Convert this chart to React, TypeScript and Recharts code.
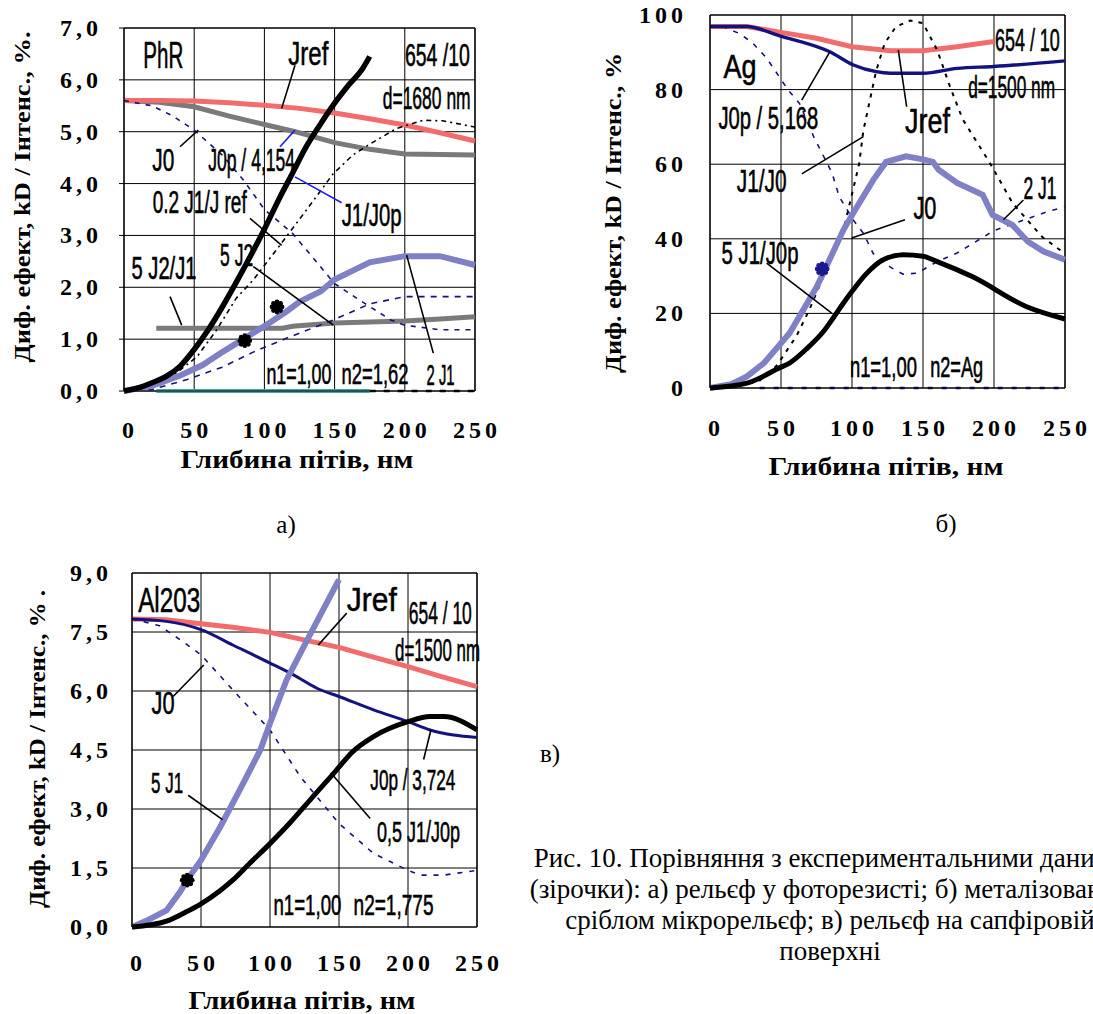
import React from 'react';
import {
  ComposedChart,
  Line,
  Scatter,
  XAxis,
  YAxis,
  CartesianGrid,
  ReferenceLine,
  ReferenceDot,
} from 'recharts';

type Pt = [number, number];

// ---------- shared axis values ----------
const depthTicks = [0, 50, 100, 150, 200, 250];

// ---------- а) photoresist relief (PhR) ----------
const phrTicks = [0, 1, 2, 3, 4, 5, 6, 7];
const phrJref: Pt[] = [[0, 5.6], [25, 5.6], [50, 5.59], [75, 5.56], [100, 5.51], [125, 5.45], [150, 5.36], [175, 5.25], [200, 5.13], [225, 4.98], [250, 4.82]];
const phrJ0: Pt[] = [[0, 5.6], [25, 5.57], [50, 5.48], [75, 5.3], [100, 5.14], [122, 5.0], [150, 4.79], [175, 4.66], [200, 4.57], [225, 4.56], [250, 4.55]];
const phrJ0p: Pt[] = [[0, 5.6], [20, 5.5], [35, 5.3], [50, 5.03], [70, 4.55], [85, 4.07], [100, 3.5], [120, 3.04], [134, 2.59], [150, 2.07], [168, 1.75], [190, 1.37], [200, 1.27], [225, 1.18], [250, 1.18]];
const phrJ1Ref: Pt[] = [[0, 0], [20, 0.1], [35, 0.3], [52, 0.66], [66, 1.18], [80, 1.79], [92, 2.14], [100, 2.42], [111, 2.81], [128, 3.42], [149, 4.19], [163, 4.55], [175, 4.76], [194, 5.06], [213, 5.22], [227, 5.21], [250, 5.09]];
const phrJ2: Pt[] = [[0, 0], [20, 0.03], [45, 0.22], [70, 0.46], [92, 0.75], [116, 1.02], [150, 1.38], [175, 1.68], [200, 1.82], [225, 1.82], [250, 1.82]];
const phrJ2J1: Pt[] = [[23, 1.21], [113, 1.21], [120, 1.25], [150, 1.31], [200, 1.35], [225, 1.39], [250, 1.43]];
const phrJ1x2: Pt[] = [[0, 0], [20, 0.1], [30, 0.2], [40, 0.3], [56, 0.5], [70, 0.75], [85, 1.0], [100, 1.25], [115, 1.52], [125, 1.72], [140, 1.92], [150, 2.15], [175, 2.48], [200, 2.6], [225, 2.6], [250, 2.43]];
const phrJ1J0p: Pt[] = [[0, 0], [10, 0.06], [20, 0.16], [30, 0.28], [40, 0.48], [50, 0.8], [60, 1.18], [70, 1.62], [80, 2.1], [90, 2.6], [100, 3.12], [110, 3.68], [120, 4.2], [130, 4.72], [140, 5.15], [150, 5.55], [160, 5.9], [170, 6.22], [175, 6.45]];
const phrBase: Pt[] = [[23, 0], [175, 0]];
const phrBaseTail: Pt[] = [[175, 0], [250, 0]];
const phrStars: Pt[] = [[86, 0.97], [109, 1.62]];

// ---------- б) silver-coated relief (Ag) ----------
const agTicks = [0, 20, 40, 60, 80, 100];
const agJref: Pt[] = [[0, 96.9], [26, 96.9], [49, 95.4], [75, 93.75], [100, 91.5], [127, 90.4], [150, 90.4], [174, 91.5], [200, 92.9]];
const agJ0p: Pt[] = [[0, 96.9], [26, 96.9], [49, 94.4], [84, 90.2], [101, 86.6], [117, 84.8], [127, 84.4], [150, 84.4], [174, 85.7], [200, 86.2], [250, 87.7]];
const agJ1J0: Pt[] = [[0, 0], [20, 0.5], [35, 2], [47, 6], [61, 14], [70, 21], [80, 30], [95, 44], [100, 52], [105, 60], [108, 69], [117, 85], [123, 92.4], [131, 96.9], [141, 98.5], [150, 97.8], [160, 90.6], [169, 80.8], [178, 72], [197, 60.4], [213, 49.6], [234, 40.5], [250, 36]];
const agJ0: Pt[] = [[0, 96.9], [10, 96.7], [21, 95], [30, 92.5], [40, 88.4], [55, 79.9], [63, 76.3], [73, 67.4], [86, 57.6], [91, 51.3], [101, 45], [108, 41.5], [115, 36], [127, 32.4], [136, 30.5], [146, 30.8], [160, 33.9], [174, 36.2], [200, 42.2], [223, 45.3], [237, 47.2], [250, 48.6]];
const agJ1x2: Pt[] = [[0, 0], [15, 1], [26, 3.1], [38, 6.7], [56, 14.7], [75, 27], [80, 31], [94, 42.4], [101, 47], [115, 55.8], [124, 60.6], [138, 62.1], [150, 61.3], [157, 60.6], [161, 58.5], [174, 55], [192, 51.8], [199, 46.4], [213, 43.7], [224, 39.2], [235, 36.6], [250, 34.4]];
const agJ1J0p: Pt[] = [[0, 0], [26, 1.3], [49, 5.4], [56, 6.7], [68, 10.5], [80, 15.2], [87, 18.9], [94, 22.8], [101, 26.4], [110, 30.6], [122, 34.4], [136, 35.7], [150, 35.3], [160, 33.9], [185, 29.8], [223, 21.8], [250, 18.5]];
const agBase: Pt[] = [[35, 0], [250, 0]];
const agStars: Pt[] = [[79, 31.9]];

// ---------- в) sapphire surface relief (Al2O3) ----------
const alTicks = [0, 1.5, 3, 4.5, 6, 7.5, 9];
const alJref: Pt[] = [[0, 7.83], [25, 7.81], [50, 7.71], [73, 7.62], [100, 7.49], [127, 7.28], [150, 7.11], [175, 6.86], [200, 6.62], [223, 6.38], [250, 6.11]];
const alJ0p: Pt[] = [[0, 7.83], [25, 7.77], [50, 7.56], [73, 7.17], [100, 6.71], [117, 6.41], [134, 6.07], [150, 5.86], [175, 5.52], [200, 5.22], [216, 5.01], [233, 4.88], [250, 4.82]];
const alJ0: Pt[] = [[0, 7.83], [20, 7.66], [35, 7.3], [50, 6.92], [73, 6.03], [100, 5.01], [122, 3.82], [141, 3.01], [150, 2.63], [175, 1.87], [200, 1.44], [209, 1.32], [226, 1.32], [250, 1.44]];
const alJ1x5: Pt[] = [[0, 0], [10, 0.15], [25, 0.42], [35, 0.9], [40, 1.2], [50, 1.7], [64, 2.55], [78, 3.48], [93, 4.5], [100, 5.18], [112, 6.28], [127, 7.3], [139, 8.1], [150, 8.83]];
const alJ1J0p: Pt[] = [[0, 0], [25, 0.15], [39, 0.38], [50, 0.59], [64, 0.93], [73, 1.19], [85, 1.61], [100, 2.12], [114, 2.63], [131, 3.31], [146, 3.9], [160, 4.46], [175, 4.84], [200, 5.22], [216, 5.35], [226, 5.35], [250, 5.01]];
const alStars: Pt[] = [[40, 1.19]];

// ---------- in-plot annotations (data coordinates) ----------
interface Note { text: string; x: number; y: number; w: number; fs: number }
interface Leader { from: Pt; to: Pt; color?: string }

const phrNotes: Note[] = [
  { text: 'PhR', x: 28, y: 6.47, w: 40, fs: 37 },
  { text: 'Jref', x: 131.3, y: 6.51, w: 40, fs: 33 },
  { text: '654 /10', x: 223.2, y: 6.47, w: 65, fs: 31 },
  { text: 'd=1680 nm', x: 215.6, y: 5.66, w: 88, fs: 31 },
  { text: 'J0', x: 28, y: 4.45, w: 22, fs: 32 },
  { text: 'J0p / 4,154', x: 90.9, y: 4.45, w: 87, fs: 31 },
  { text: '0.2 J1/J ref', x: 53.9, y: 3.65, w: 94, fs: 31 },
  { text: 'J1/J0p', x: 176.4, y: 3.39, w: 60, fs: 31 },
  { text: '5 J2', x: 80.2, y: 2.62, w: 33, fs: 31 },
  { text: '5 J2/J1', x: 28.5, y: 2.36, w: 65, fs: 31 },
  { text: 'n1=1,00', x: 124.6, y: 0.34, w: 65, fs: 29 },
  { text: 'n2=1,62', x: 178.8, y: 0.34, w: 67, fs: 29 },
  { text: '2 J1', x: 225.5, y: 0.31, w: 28, fs: 29 },
];
const phrLeaders: Leader[] = [
  { from: [121.8, 6.28], to: [112.3, 5.45] },
  { from: [39.9, 4.71], to: [52.9, 5.03] },
  { from: [111.1, 4.71], to: [121.8, 5.03], color: '#1f1ff0' },
  { from: [155, 3.63], to: [121.8, 4.13], color: '#1f1ff0' },
  { from: [89.7, 3.33], to: [112.3, 2.81] },
  { from: [92.1, 2.4], to: [149.1, 1.27] },
  { from: [32.8, 1.82], to: [41.1, 1.27] },
  { from: [220.3, 0.73], to: [201.3, 2.62] },
];

const agNotes: Note[] = [
  { text: 'Ag', x: 21.1, y: 86.2, w: 33, fs: 33 },
  { text: '654 / 10', x: 223.5, y: 93.3, w: 65, fs: 31 },
  { text: 'd=1500 nm', x: 212.4, y: 80.6, w: 87, fs: 31 },
  { text: 'J0p / 5,168', x: 41.1, y: 72.3, w: 100, fs: 31 },
  { text: 'Jref', x: 153.1, y: 71.4, w: 45, fs: 35 },
  { text: 'J1/J0', x: 36.4, y: 55.4, w: 50, fs: 31 },
  { text: 'J0', x: 151.4, y: 48.2, w: 23, fs: 31 },
  { text: '2 J1', x: 232.4, y: 53.6, w: 33, fs: 31 },
  { text: '5 J1/J0p', x: 35.2, y: 36.2, w: 77, fs: 31 },
  { text: 'n1=1,00', x: 122.1, y: 5.8, w: 67, fs: 29 },
  { text: 'n2=Ag', x: 173.7, y: 5.8, w: 53, fs: 29 },
];
const agLeaders: Leader[] = [
  { from: [64.6, 77.2], to: [84.5, 90.2] },
  { from: [138.5, 75.4], to: [132.6, 90.6] },
  { from: [64.6, 57.4], to: [108, 67.4] },
  { from: [137.3, 45.1], to: [99.8, 40.2] },
  { from: [220.7, 50.4], to: [206.6, 45.1] },
  { from: [39.9, 33.5], to: [85.7, 20.1] },
];

const alNotes: Note[] = [
  { text: 'Al203', x: 26.9, y: 8.32, w: 62, fs: 35 },
  { text: 'Jref', x: 173.8, y: 8.32, w: 50, fs: 33 },
  { text: '654 / 10', x: 223.4, y: 7.98, w: 63, fs: 31 },
  { text: 'd=1500 nm', x: 221.4, y: 7.05, w: 85, fs: 31 },
  { text: 'J0', x: 22.5, y: 5.69, w: 23, fs: 31 },
  { text: '5 J1', x: 25.4, y: 3.65, w: 32, fs: 29 },
  { text: 'J0p / 3,724', x: 203.5, y: 3.75, w: 85, fs: 29 },
  { text: '0,5 J1/J0p', x: 207.6, y: 2.42, w: 83, fs: 29 },
  { text: 'n1=1,00', x: 127.1, y: 0.55, w: 68, fs: 29 },
  { text: 'n2=1,775', x: 189.5, y: 0.55, w: 80, fs: 29 },
];
const alLeaders: Leader[] = [
  { from: [155.6, 7.98], to: [135, 7.17] },
  { from: [29.8, 5.86], to: [52, 6.66] },
  { from: [40.7, 3.35], to: [65.6, 2.73] },
  { from: [211.3, 4.26], to: [216.6, 5.01] },
  { from: [172.6, 2.76], to: [144, 3.92] },
];

// ---------- styling ----------
const SANS = "'Liberation Sans', Arial, sans-serif";
const SERIF = "'Liberation Serif', 'Times New Roman', Tinos, 'DejaVu Serif', serif";
const RED = '#f36c6c';
const GREY = '#7a7a7a';
const LILAC = '#7f80c6';
const NAVY = '#13137f';
const BLACK = '#000';

interface SeriesSpec { data: Pt[]; stroke: string; width: number; dash?: string; curve?: 'linear' | 'monotone' }

interface PanelSpec {
  box: { left: number; top: number; width: number; height: number };
  plot: { l: number; r: number; t: number; b: number };
  yDomain: [number, number];
  yTicks: number[];
  yFmt: (v: number) => string;
  yTickRight: number;
  yTickMarks: boolean;
  xTickY: number;
  series: SeriesSpec[];
  stars: Pt[];
  starColor: string;
  notes: Note[];
  leaders: Leader[];
  yTitle: { x: number; y: number; len: number; text: string };
  xTitle: { x: number; y: number; len: number };
  letter: { x: number; y: number; text: string };
}

const comma1 = (v: number) => v.toFixed(1).replace('.', ',');

const toRows = (pts: Pt[]) => pts.map(([x, y]) => ({ x, y }));

// Natural advance width of a label, used to squeeze it into its narrow box.
let measureCtx: CanvasRenderingContext2D | null = null;
const naturalWidth = (text: string, fs: number) => {
  if (typeof document === 'undefined') return 0;
  if (!measureCtx) measureCtx = document.createElement('canvas').getContext('2d');
  if (!measureCtx) return 0;
  measureCtx.font = `${fs}px "Liberation Sans", Arial, sans-serif`;
  return measureCtx.measureText(text).width;
};

const NoteText = ({ cx, cy, note }: { cx: number; cy: number; note: Note }) => {
  const nat = naturalWidth(note.text, note.fs);
  const sx = nat > 0 ? note.w / nat : 0.62;
  return (
    <text
      transform={`translate(${cx},${cy}) scale(${sx},1)`}
      x={0}
      y={0}
      textAnchor="middle"
      dominantBaseline="central"
      fontFamily={SANS}
      fontSize={note.fs}
      fill="#000"
      stroke="#000"
      strokeWidth={0.5}
      vectorEffect="non-scaling-stroke"
    >
      {note.text}
    </text>
  );
};

const Asterisk = ({ cx, cy, fill }: { cx: number; cy: number; fill: string }) => (
  <g fill={fill}>
    <circle cx={cx} cy={cy} r={5} />
    {[0, 1, 2, 3, 4, 5, 6, 7].map((k) => (
      <circle key={k} cx={cx + 5 * Math.cos((k * Math.PI) / 4)} cy={cy + 5 * Math.sin((k * Math.PI) / 4)} r={2.4} />
    ))}
  </g>
);

function Panel({ p }: { p: PanelSpec }) {
  const { box, plot } = p;
  return (
    <div style={{ position: 'absolute', left: box.left, top: box.top, width: box.width, height: box.height }}>
      <ComposedChart
        width={box.width}
        height={box.height}
        margin={{ top: plot.t, right: box.width - plot.r, bottom: 0, left: 0 }}
      >
        <CartesianGrid stroke="#000" strokeWidth={1} />
        <XAxis
          type="number"
          dataKey="x"
          domain={[0, 250]}
          ticks={depthTicks}
          interval={0}
          height={box.height - plot.b}
          axisLine={{ stroke: '#000', strokeWidth: 1.2 }}
          tickLine={false}
          tickSize={0}
          tickMargin={0}
          tick={(t: any) => (
            <text
              x={t.x + (t.payload.value === 0 ? 6 : 2)}
              y={p.xTickY}
              textAnchor="middle"
              dominantBaseline="central"
              fontFamily={SERIF}
              fontWeight="bold"
              fontSize={24}
              letterSpacing={4}
              fill="#000"
            >
              {t.payload.value}
            </text>
          )}
        />
        <YAxis
          type="number"
          domain={p.yDomain}
          ticks={p.yTicks}
          interval={0}
          width={plot.l}
          axisLine={{ stroke: '#000', strokeWidth: 1.2 }}
          tickLine={p.yTickMarks ? { stroke: '#000' } : false}
          tickSize={p.yTickMarks ? 5 : 0}
          tickMargin={0}
          tick={(t: any) => (
            <text
              x={p.yTickRight + 4}
              y={t.y}
              textAnchor="end"
              dominantBaseline="central"
              fontFamily={SERIF}
              fontWeight="bold"
              fontSize={24}
              letterSpacing={4}
              fill="#000"
            >
              {p.yFmt(t.payload.value)}
            </text>
          )}
        />
        <ReferenceLine x={250} stroke="#000" strokeWidth={1.2} />
        <ReferenceLine y={p.yDomain[1]} stroke="#000" strokeWidth={1.2} />
        {p.series.map((s, i) => (
          <Line
            key={i}
            data={toRows(s.data)}
            dataKey="y"
            type={s.curve ?? 'linear'}
            stroke={s.stroke}
            strokeWidth={s.width}
            strokeDasharray={s.dash}
            dot={false}
            activeDot={false}
            isAnimationActive={false}
          />
        ))}
        {p.leaders.map((l, i) => (
          <ReferenceLine
            key={`l${i}`}
            segment={[{ x: l.from[0], y: l.from[1] }, { x: l.to[0], y: l.to[1] }]}
            stroke={l.color ?? '#000'}
            strokeWidth={1.6}
            ifOverflow="visible"
          />
        ))}
        <Scatter
          data={toRows(p.stars)}
          dataKey="y"
          fill={p.starColor}
          isAnimationActive={false}
          shape={(s: any) => <Asterisk cx={s.cx} cy={s.cy} fill={p.starColor} />}
        />
        {p.notes.map((n, i) => (
          <ReferenceDot
            key={`n${i}`}
            x={n.x}
            y={n.y}
            r={0}
            ifOverflow="visible"
            shape={(d: any) => <NoteText cx={d.cx} cy={d.cy} note={n} />}
          />
        ))}
      </ComposedChart>
      <svg
        width={box.width}
        height={box.height}
        style={{ position: 'absolute', left: 0, top: 0, pointerEvents: 'none' }}
      >
        <text
          transform={`translate(${p.yTitle.x},${p.yTitle.y}) rotate(-90)`}
          textAnchor="middle"
          dominantBaseline="central"
          fontFamily={SERIF}
          fontWeight="bold"
          fontSize={23}
          textLength={p.yTitle.len}
          lengthAdjust="spacingAndGlyphs"
          fill="#000"
        >
          {p.yTitle.text}
        </text>
        <text
          x={p.xTitle.x}
          y={p.xTitle.y}
          textAnchor="middle"
          dominantBaseline="central"
          fontFamily={SERIF}
          fontWeight="bold"
          fontSize={25}
          textLength={p.xTitle.len}
          lengthAdjust="spacingAndGlyphs"
          fill="#000"
        >
          Глибина пітів, нм
        </text>
        <text
          x={p.letter.x}
          y={p.letter.y}
          textAnchor="middle"
          dominantBaseline="central"
          fontFamily={SERIF}
          fontSize={25}
          fill="#000"
        >
          {p.letter.text}
        </text>
      </svg>
    </div>
  );
}

const panelA: PanelSpec = {
  box: { left: 0, top: 0, width: 500, height: 560 },
  plot: { l: 124, r: 475, t: 28, b: 391 },
  yDomain: [0, 7],
  yTicks: phrTicks,
  yFmt: comma1,
  yTickRight: 98,
  yTickMarks: true,
  xTickY: 430,
  series: [
    { data: phrJ0, stroke: GREY, width: 5 },
    { data: phrJ2J1, stroke: GREY, width: 5 },
    { data: phrJref, stroke: RED, width: 5 },
    { data: phrJ0p, stroke: NAVY, width: 1.6, dash: '5 6' },
    { data: phrJ2, stroke: NAVY, width: 1.6, dash: '6 6' },
    { data: phrJ1Ref, stroke: BLACK, width: 1.6, dash: '5 4 2 4' },
    { data: phrJ1x2, stroke: LILAC, width: 6 },
    { data: phrJ1J0p, stroke: BLACK, width: 5.5, curve: 'monotone' },
    { data: phrBaseTail, stroke: BLACK, width: 2.5, dash: '6 8' },
    { data: phrBase, stroke: '#45a6a6', width: 4 },
  ],
  stars: phrStars,
  starColor: BLACK,
  notes: phrNotes,
  leaders: phrLeaders,
  yTitle: { x: 22, y: 197, len: 331, text: 'Диф. ефект, kD / Інтенс., %.' },
  xTitle: { x: 297, y: 459, len: 233 },
  letter: { x: 286, y: 524, text: 'а)' },
};

const panelB: PanelSpec = {
  box: { left: 590, top: 0, width: 503, height: 560 },
  plot: { l: 120, r: 475, t: 15, b: 388 },
  yDomain: [0, 100],
  yTicks: agTicks,
  yFmt: (v) => String(v),
  yTickRight: 93,
  yTickMarks: false,
  xTickY: 428,
  series: [
    { data: agJref, stroke: RED, width: 5 },
    { data: agJ0p, stroke: NAVY, width: 3.4, curve: 'monotone' },
    { data: agJ1J0, stroke: BLACK, width: 2, dash: '4 6' },
    { data: agJ0, stroke: NAVY, width: 1.6, dash: '5 7' },
    { data: agBase, stroke: NAVY, width: 2.5, dash: '5 9' },
    { data: agJ1x2, stroke: LILAC, width: 6 },
    { data: agJ1J0p, stroke: BLACK, width: 5, curve: 'monotone' },
  ],
  stars: agStars,
  starColor: '#1a1a90',
  notes: agNotes,
  leaders: agLeaders,
  yTitle: { x: 23, y: 213, len: 320, text: 'Диф. ефект, kD / Інтенс., %' },
  xTitle: { x: 296, y: 466, len: 235 },
  letter: { x: 356, y: 523, text: 'б)' },
};

const panelC: PanelSpec = {
  box: { left: 0, top: 550, width: 560, height: 464 },
  plot: { l: 132, r: 477, t: 23, b: 377 },
  yDomain: [0, 9],
  yTicks: alTicks,
  yFmt: comma1,
  yTickRight: 108,
  yTickMarks: false,
  xTickY: 413,
  series: [
    { data: alJref, stroke: RED, width: 5 },
    { data: alJ0p, stroke: NAVY, width: 3, curve: 'monotone' },
    { data: alJ0, stroke: NAVY, width: 1.6, dash: '5 7' },
    { data: alJ1x5, stroke: LILAC, width: 6 },
    { data: alJ1J0p, stroke: BLACK, width: 5, curve: 'monotone' },
  ],
  stars: alStars,
  starColor: BLACK,
  notes: alNotes,
  leaders: alLeaders,
  yTitle: { x: 37, y: 199, len: 318, text: 'Диф. ефект, kD / Інтенс., % .' },
  xTitle: { x: 302, y: 450, len: 227 },
  letter: { x: 550, y: 203, text: 'в)' },
};

const captionLines = [
  'Рис. 10. Порівняння з експериментальними даними',
  '(зірочки): а) рельєф у фоторезисті; б) металізований',
  'сріблом мікрорельєф; в) рельєф на сапфіровій',
  'поверхні',
];

export default function App() {
  return (
    <div
      style={{
        position: 'absolute',
        left: 0,
        top: 0,
        width: 1093,
        height: 1014,
        overflow: 'hidden',
        background: '#fff',
      }}
    >
      <Panel p={panelA} />
      <Panel p={panelB} />
      <Panel p={panelC} />
      <div
        style={{
          position: 'absolute',
          left: 430,
          top: 843,
          width: 800,
          textAlign: 'center',
          fontFamily: SERIF,
          fontSize: 27,
          lineHeight: '31px',
          whiteSpace: 'nowrap',
          color: '#000',
        }}
      >
        {captionLines.map((t, i) => (
          <div key={i}>{t}</div>
        ))}
      </div>
    </div>
  );
}
